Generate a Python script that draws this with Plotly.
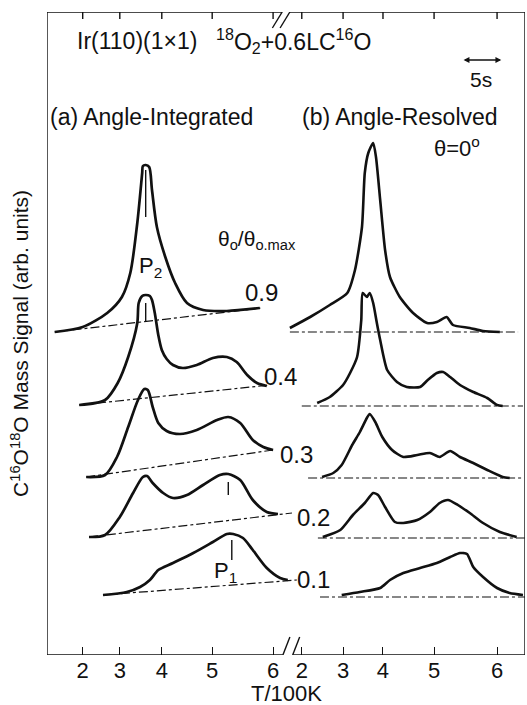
import plotly.graph_objects as go

# ---------------- data (x: time in s after frame start, y: signal, arb. units) -------------
tick_labels = ["2", "3", "4", "5", "6"]
tick_t_a = [5.1, 10.4, 16.4, 23.6, 32.3]      # T/100K ticks, angle-integrated panel
tick_t_b = [36.4, 42.3, 48.0, 55.3, 64.3]     # T/100K ticks, angle-resolved panel

coverages = ["0.9", "0.4", "0.3", "0.2", "0.1"]

# (a) Angle-Integrated
a09_t = [1.1, 5.1, 8.6, 10.7, 11.9, 12.9, 13.6, 13.7, 14.1, 14.6, 15.0, 15.7, 16.9, 18.3, 20.0, 22.3, 25.7, 30.4]
a09_s = [32.3, 32.8, 34.2, 35.8, 38.2, 43.2, 48.2, 48.9, 49.0, 48.8, 46.5, 42.8, 39.8, 37.2, 35.2, 34.5, 34.4, 34.7]
a04_t = [4.6, 8.3, 10.1, 11.6, 12.9, 13.1, 13.6, 14.1, 14.7, 15.0, 15.4, 15.9, 16.4, 17.1, 18.0, 19.4, 21.4, 23.7, 25.7, 27.1, 28.6, 30.0, 31.4]
a04_s = [25.0, 25.5, 27.2, 29.8, 33.2, 35.2, 35.9, 36.0, 35.9, 35.5, 34.2, 32.0, 30.5, 29.6, 29.0, 28.7, 29.0, 29.7, 29.8, 29.3, 28.0, 27.2, 26.9]
a03_t = [5.6, 8.3, 10.0, 11.6, 13.0, 13.9, 14.4, 15.1, 15.9, 17.1, 19.0, 21.4, 24.3, 25.9, 27.6, 29.4, 30.9, 32.3]
a03_s = [17.8, 18.0, 19.8, 22.8, 25.5, 26.6, 26.5, 24.8, 23.2, 22.4, 22.1, 22.5, 23.5, 23.8, 23.2, 21.5, 20.8, 20.5]
a02_t = [6.0, 8.3, 10.4, 12.3, 13.7, 14.3, 15.1, 16.6, 18.0, 20.0, 22.3, 24.7, 25.9, 27.6, 29.4, 31.4, 33.0]
a02_s = [11.8, 12.0, 13.8, 16.2, 17.8, 17.9, 17.2, 16.2, 15.7, 16.0, 17.0, 18.0, 18.1, 17.5, 15.5, 14.3, 14.1]
a01_t = [8.0, 11.4, 13.3, 14.7, 15.9, 18.0, 20.9, 23.7, 25.7, 26.6, 28.0, 29.4, 31.4, 33.3, 34.4]
a01_s = [6.0, 6.3, 6.8, 7.5, 8.5, 9.2, 10.2, 11.3, 12.1, 12.1, 11.7, 10.5, 8.7, 7.7, 7.5]

# baselines of (a): start/end time and start/end level
a_base_t = [[1.1, 30.7], [4.6, 31.9], [5.6, 32.3], [6.0, 35.0], [8.0, 35.7]]
a_base_s = [[32.3, 34.7], [25.0, 27.0], [17.8, 20.5], [11.8, 14.2], [6.0, 7.5]]

# peak position markers in (a)
a_mark_t = [14.1, 14.1, 25.9, 26.4]
a_mark_s = [[48.5, 43.8], [35.2, 33.3], [17.3, 16.0], [11.5, 9.5]]

# (b) Angle-Resolved, theta = 0
b09_t = [34.7, 37.6, 40.4, 42.9, 44.0, 45.0, 45.4, 45.9, 46.6, 47.0, 47.6, 48.3, 49.0, 50.4, 52.3, 54.3, 55.7, 57.1, 58.0, 60.4, 62.3, 64.7]
b09_s = [32.7, 33.8, 35.0, 36.2, 38.5, 42.8, 48.2, 50.2, 51.2, 49.8, 45.5, 40.5, 37.8, 35.8, 34.2, 33.2, 33.3, 33.8, 33.0, 32.7, 32.4, 32.3]
b04_t = [38.6, 40.4, 42.3, 43.3, 44.3, 44.9, 45.1, 45.7, 46.1, 46.6, 47.1, 47.6, 48.6, 50.0, 51.4, 53.3, 54.4, 55.7, 56.6, 57.6, 59.0, 60.9, 62.9, 64.3, 65.1]
b04_s = [25.2, 25.8, 27.0, 28.2, 29.8, 33.5, 36.2, 35.8, 36.2, 35.2, 33.3, 31.5, 28.5, 27.3, 26.8, 26.8, 27.5, 28.2, 28.3, 27.8, 27.0, 26.3, 25.7, 25.0, 24.9]
b03_t = [39.3, 40.9, 42.1, 43.6, 44.7, 45.7, 46.1, 46.9, 47.9, 49.3, 50.9, 52.9, 54.7, 56.1, 57.6, 59.0, 60.9, 62.9, 65.1, 66.1]
b03_s = [17.8, 18.2, 19.0, 21.0, 22.3, 23.7, 24.1, 23.3, 21.8, 20.5, 19.8, 20.0, 20.2, 19.8, 20.4, 19.8, 19.2, 18.5, 17.8, 17.7]
b02_t = [39.4, 41.9, 43.7, 45.4, 46.6, 47.3, 48.3, 49.7, 50.9, 52.9, 54.7, 56.1, 57.3, 58.7, 60.4, 62.3, 64.7, 67.1]
b02_s = [11.8, 12.5, 14.0, 15.2, 16.2, 16.0, 14.8, 13.3, 13.2, 13.5, 14.3, 15.2, 15.5, 15.0, 14.2, 13.2, 12.3, 11.8]
b01_t = [42.1, 44.7, 47.6, 49.0, 50.9, 53.3, 55.7, 57.6, 59.0, 60.0, 60.9, 62.3, 64.3, 66.1, 68.0]
b01_s = [6.0, 6.3, 6.7, 7.5, 8.2, 8.7, 9.2, 9.8, 10.2, 10.1, 8.8, 7.8, 6.7, 6.2, 6.0]

b_base_t = [[34.7, 67.3], [36.4, 68.0], [37.3, 68.0], [38.7, 68.3], [39.0, 68.3]]
b_base_s = [32.3, 24.9, 17.7, 11.7, 5.8]

# ---------------- figure ----------------
FONT = "Liberation Sans, Arial, Helvetica, sans-serif"
BLACK = "#111111"
fig = go.Figure()

a_curves = [(a09_t, a09_s), (a04_t, a04_s), (a03_t, a03_s), (a02_t, a02_s), (a01_t, a01_s)]
b_curves = [(b09_t, b09_s), (b04_t, b04_s), (b03_t, b03_s), (b02_t, b02_s), (b01_t, b01_s)]

for bt, bs in zip(a_base_t, a_base_s):
    fig.add_trace(go.Scatter(x=bt, y=bs, mode="lines",
                             line=dict(color=BLACK, width=1.2, dash="dashdot")))
for bt, bs in zip(b_base_t, b_base_s):
    fig.add_trace(go.Scatter(x=bt, y=[bs, bs], mode="lines",
                             line=dict(color=BLACK, width=1.2, dash="dashdot")))

for t, s in a_curves:
    fig.add_trace(go.Scatter(x=t, y=s, mode="lines",
                             line=dict(color=BLACK, width=2.7, shape="spline", smoothing=0.8)))
for t, s in b_curves:
    fig.add_trace(go.Scatter(x=t, y=s, mode="lines",
                             line=dict(color=BLACK, width=2.6, shape="spline", smoothing=0.6)))

for mt, ms in zip(a_mark_t, a_mark_s):
    fig.add_trace(go.Scatter(x=[mt, mt], y=ms, mode="lines", line=dict(color=BLACK, width=1.4)))

# frame with axis breaks
X_END = 68.29
Y_TOP = 64.3
line = dict(color=BLACK, width=1.4)
frame = [
    (0, 0, 0, Y_TOP),
    (X_END, 0, X_END, Y_TOP),
    (0, 0, 33.7, 0), (35.1, 0, X_END, 0),
    (33.7, 0, 34.7, 1.8), (35.1, 0, 36.1, 1.8),
    (0, Y_TOP, 33.6, Y_TOP), (34.7, Y_TOP, X_END, Y_TOP),
    (32.2, Y_TOP - 1.6, 33.6, Y_TOP), (33.3, Y_TOP - 1.6, 34.7, Y_TOP),
]
for x0, y0, x1, y1 in frame:
    fig.add_shape(type="line", x0=x0, y0=y0, x1=x1, y1=y1, xref="x", yref="y", line=line)

# top (mirrored) ticks
for tv in tick_t_a + tick_t_b:
    fig.add_shape(type="line", x0=tv, x1=tv, y0=Y_TOP, y1=Y_TOP - 0.7, xref="x", yref="y", line=line)

def txt(x, y, s, size, anchor="left", **kw):
    fig.add_annotation(x=x, y=y, text=s, showarrow=False, xanchor=anchor, yanchor="middle",
                       font=dict(family=FONT, size=size, color=BLACK), **kw)

txt(4.0, 61.4, "Ir(110)(1×1)", 23)
txt(23.8, 61.4, "<sup>18</sup>O<sub>2</sub>+0.6LC<sup>16</sup>O", 23)
txt(62.0, 57.6, "5s", 21, anchor="center")
fig.add_annotation(x=64.9, y=59.5, ax=59.3, ay=59.5, axref="x", ayref="y", xref="x", yref="y",
                   text="", showarrow=True, arrowside="end+start", arrowhead=2,
                   arrowsize=0.9, arrowwidth=1.3, arrowcolor=BLACK)
txt(0.1, 53.8, "(a) Angle-Integrated", 23)
txt(36.2, 53.8, "(b) Angle-Resolved", 23)
txt(55.0, 50.8, "θ=0<sup>o</sup>", 22)
txt(24.2, 41.5, "θ<sub>o</sub>/θ<sub>o.max</sub>", 21)
txt(12.8, 38.8, "P<sub>2</sub>", 22)
txt(23.6, 8.3, "P<sub>1</sub>", 22)

lab_t = [28.0, 30.7, 33.0, 35.4, 35.4]
lab_s = [36.3, 27.9, 20.1, 13.8, 7.6]
for c, lt, ls in zip(coverages, lab_t, lab_s):
    txt(lt, ls, c, 24)

fig.add_annotation(x=0.5, y=-0.06, xref="paper", yref="paper", text="T/100K", showarrow=False,
                   xanchor="center", yanchor="middle", font=dict(family=FONT, size=22, color=BLACK))
fig.add_annotation(x=-0.057, y=0.485, xref="paper", yref="paper",
                   text="C<sup>16</sup>O<sup>18</sup>O Mass Signal (arb. units)", showarrow=False,
                   textangle=-90, xanchor="center", yanchor="middle",
                   font=dict(family=FONT, size=21, color=BLACK))

fig.update_layout(
    width=527, height=705, autosize=False,
    margin=dict(l=47, r=2, t=12, b=50),
    paper_bgcolor="white", plot_bgcolor="white",
    showlegend=False,
    xaxis=dict(range=[0, X_END], showgrid=False, zeroline=False, showline=False,
               ticks="inside", ticklen=8, tickwidth=1.4, tickcolor=BLACK,
               tickvals=tick_t_a + tick_t_b, ticktext=tick_labels + tick_labels,
               tickfont=dict(family=FONT, size=22, color=BLACK)),
    yaxis=dict(range=[0, Y_TOP], showgrid=False, zeroline=False, showline=False,
               showticklabels=False, ticks=""),
)

fig.write_html("out.html")
